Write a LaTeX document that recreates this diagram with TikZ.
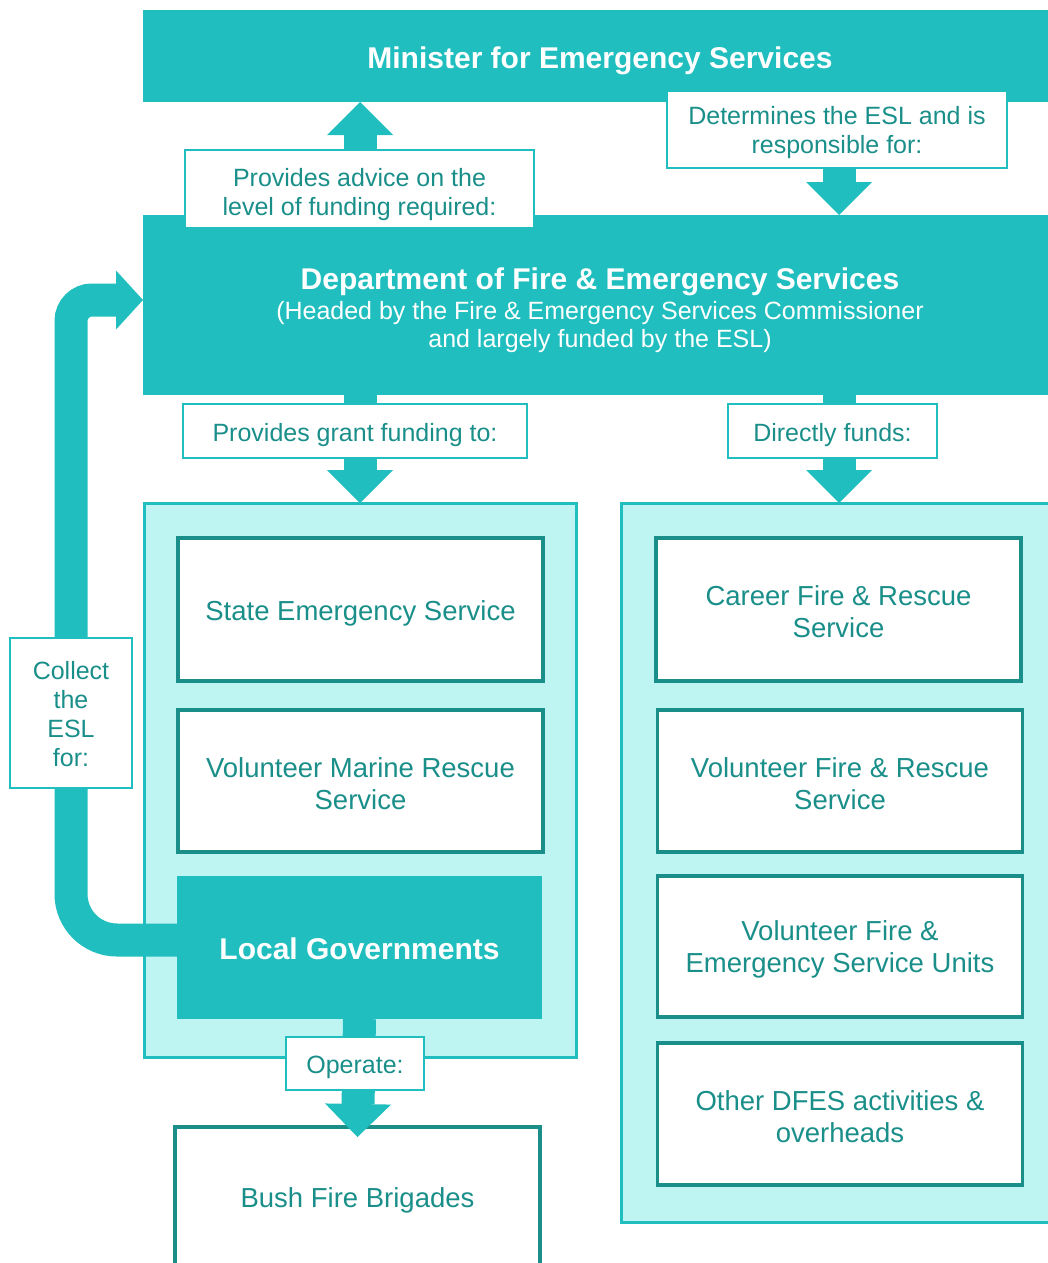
\documentclass[tikz,border=0pt]{standalone}
\usepackage{fontspec}
\setmainfont{Liberation Sans}
\usetikzlibrary{arrows.meta}
\definecolor{tl}{RGB}{32,190,190}
\definecolor{lt}{RGB}{190,245,243}
\definecolor{dk}{RGB}{26,143,138}
\newcommand\sdn[1]{\rule{0pt}{#1pt}}
\begin{document}
\begin{tikzpicture}[x=1pt,y=-1pt,
  every node/.style={inner sep=0pt, outer sep=0pt, align=center},
  bar/.style={fill=tl, text=white, font=\fontsize{30}{31}\selectfont\bfseries},
  cont/.style={draw=tl, line width=3pt, fill=lt},
  ibox/.style={draw=dk, line width=3.5pt, fill=white, text=dk, font=\fontsize{27.5}{32}\selectfont, minimum width=365},
  lab/.style={draw=tl, line width=2.5pt, fill=white, text=dk, font=\fontsize{25}{29}\selectfont},
  barrow/.style={draw=tl, line width=33pt, -{Triangle[width=66pt,length=33pt,line width=0pt]}},
]
\useasboundingbox (0,0) rectangle (1047,1263);

% main bars
\node[bar, minimum width=914, minimum height=92] (min) at (600,56) {\sdn{31.9}Minister for Emergency Services};
\node[bar, minimum width=914, minimum height=180] (dept) at (600,305) {\sdn{31.9}Department of Fire \& Emergency Services\\[-1pt]
  \mdseries\fontsize{25}{29}\selectfont (Headed by the Fire \& Emergency Services Commissioner\\[-3pt]
  \mdseries\fontsize{25}{29}\selectfont and largely funded by the ESL)};

% containers
\node[cont, minimum width=432, minimum height=554] (lc) at (360,780) {};
\node[cont, minimum width=436, minimum height=719] (rc) at (839,862.5) {};

% left boxes
\node[ibox, minimum height=143] (seb) at (360.5,609.5) {\sdn{28.1}State Emergency Service};
\node[ibox, minimum height=142] (vmr) at (360.5,781) {\sdn{24.6}Volunteer Marine Rescue\\Service};
\node[bar, minimum width=365, minimum height=143] (lg) at (359.5,947.5) {\sdn{23.9}Local Governments};
\node[ibox, minimum height=143] (bush) at (357.5,1198.5) {\sdn{24.1}Bush Fire Brigades};

% right boxes
\node[ibox, minimum height=143] (cfr) at (838.5,609.5) {\sdn{24.6}Career Fire \& Rescue\\Service};
\node[ibox, minimum height=142] (vfr) at (840,781) {\sdn{24.6}Volunteer Fire \& Rescue\\Service};
\node[ibox, minimum height=141] (vfe) at (840,946.5) {\sdn{26.1}Volunteer Fire \&\\Emergency Service Units};
\node[ibox, minimum height=142] (oth) at (840,1114) {\sdn{25.1}Other DFES activities \&\\overheads};

% block arrows
\draw[barrow] (dept.north -| lc.north) -- (min.south -| lc.north);
\draw[barrow] (min.south -| rc.north) -- (dept.north -| rc.north);
\draw[barrow] (dept.south -| lc.north) -- (lc.north);
\draw[barrow] (dept.south -| rc.north) -- (rc.north);
\draw[barrow] (lg.south) -- ([yshift=-10pt]bush.north);

% curved return arrow
\draw[draw=tl, line width=33pt, -{Triangle[width=59pt,length=27pt,line width=0pt]}]
  ([yshift=7.5pt]lg.west) -- (117,940) .. controls (91.6,940) and (71,919.4) .. (71,894)
  -- (71,321) .. controls (71,309.4) and (80.4,300) .. (92,300) -- ([yshift=5pt]dept.west);

% labels
\node[lab, minimum width=349, minimum height=78] (adv) at (359.5,189) {\sdn{28.25}Provides advice on the\\level of funding required:};
\node[lab, minimum width=340, minimum height=77] (det) at (837,129.5) {\sdn{24.25}Determines the ESL and is\\responsible for:};
\node[lab, minimum width=344, minimum height=54] (grant) at (355,431) {\sdn{26.25}Provides grant funding to:};
\node[lab, minimum width=209, minimum height=54] (dirf) at (832.5,431) {\sdn{26.25}Directly funds:};
\node[lab, minimum width=138, minimum height=53] (oper) at (355,1063.5) {\sdn{24.25}Operate:};
\node[lab, minimum width=122, minimum height=150] (coll) at (71,713) {\sdn{20.25}Collect\\the\\ESL\\for:};
\end{tikzpicture}
\end{document}
